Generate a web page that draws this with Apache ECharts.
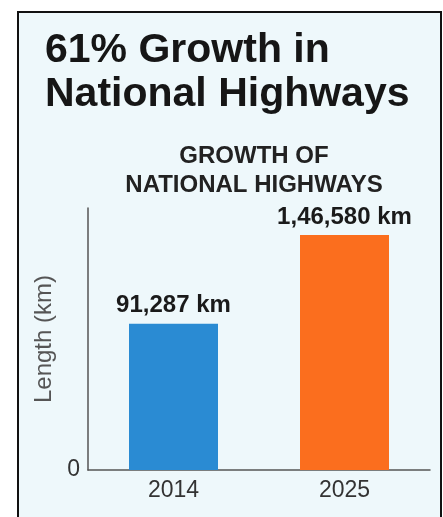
<!DOCTYPE html>
<html>
<head>
<meta charset="utf-8">
<script src="https://cdn.jsdelivr.net/npm/echarts@6/dist/echarts.min.js"></script>
<style>
html, body { margin: 0; padding: 0; background: #fff; }
#chart { width: 443px; height: 517px; }
</style>
</head>
<body>
<div id="chart"></div>
<script>
// data
var years = ['2014', '2025'];
var lengths = [91287, 146580];
var valueLabels = ['91,287 km', '1,46,580 km'];
var barColors = ['#2a8bd3', '#fb6e1e'];

var FONT = '"Liberation Sans", Arial, sans-serif';

var chart = echarts.init(document.getElementById('chart'));

chart.setOption({
    backgroundColor: '#ffffff',
    animation: false,
    graphic: [
        {
            type: 'rect',
            z: -10,
            shape: { x: 18, y: 12, width: 423, height: 520 },
            style: { fill: '#eef8fb', stroke: '#111', lineWidth: 2 }
        }
    ],
    title: [
        {
            text: '61% Growth in\nNational Highways',
            left: 40,
            top: 24,
            textStyle: {
                fontFamily: FONT,
                fontSize: 41,
                fontWeight: 'bold',
                lineHeight: 44,
                color: '#161616'
            }
        },
        {
            text: 'GROWTH OF\nNATIONAL HIGHWAYS',
            left: 249,
            top: 137,
            textAlign: 'center',
            textStyle: {
                fontFamily: FONT,
                fontSize: 24,
                fontWeight: 'bold',
                lineHeight: 29,
                color: '#222'
            }
        }
    ],
    grid: {
        left: 88,
        right: 13,
        top: 208,
        bottom: 47
    },
    xAxis: {
        type: 'category',
        data: years,
        axisLine: { lineStyle: { color: '#555', width: 1.5 } },
        axisTick: { show: false },
        axisLabel: {
            fontFamily: FONT,
            fontSize: 23,
            color: '#333',
            margin: 9
        }
    },
    yAxis: {
        type: 'value',
        min: 0,
        max: 163400,
        interval: 163400,
        name: 'Length (km)',
        nameLocation: 'middle',
        nameRotate: 90,
        nameGap: 31,
        nameTextStyle: {
            fontFamily: FONT,
            fontSize: 24,
            color: '#555'
        },
        splitLine: { show: false },
        axisLine: { show: true, lineStyle: { color: '#555', width: 1.5 } },
        axisTick: { show: false },
        axisLabel: {
            fontFamily: FONT,
            fontSize: 23,
            color: '#333',
            margin: 8,
            showMaxLabel: false
        }
    },
    series: [
        {
            type: 'bar',
            barWidth: 89,
            data: lengths.map(function (v, i) {
                return { value: v, itemStyle: { color: barColors[i] } };
            }),
            label: {
                show: true,
                position: 'top',
                distance: 6,
                fontFamily: FONT,
                fontSize: 24,
                fontWeight: 'bold',
                color: '#1a1a1a',
                formatter: function (p) { return valueLabels[p.dataIndex]; }
            }
        }
    ]
});
</script>
</body>
</html>
